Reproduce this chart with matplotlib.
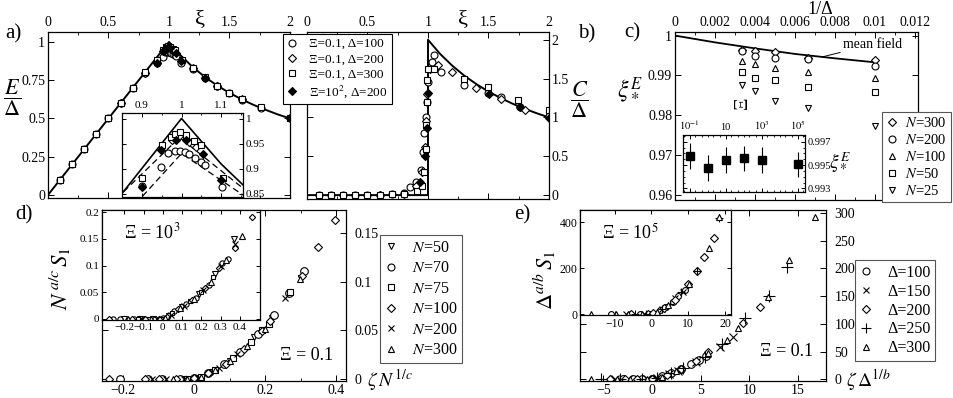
import matplotlib
matplotlib.use('Agg')
import matplotlib.pyplot as plt
from matplotlib.lines import Line2D
from matplotlib.ticker import FuncFormatter, MultipleLocator, FixedLocator, LogLocator, NullFormatter

plt.rcParams['font.family'] = 'serif'
plt.rcParams['font.serif'] = ['Liberation Serif', 'DejaVu Serif']
plt.rcParams['mathtext.fontset'] = 'stix'

# ---------------- data: panel a (E/Delta vs xi) ----------------
mf_a_xi = [0, 1.0, 1.1, 1.2, 1.3, 1.4, 1.5, 1.6, 1.7, 1.8, 1.9, 2.0]
mf_a_E = [0, 1.0, 0.909, 0.833, 0.769, 0.714, 0.667, 0.625, 0.588, 0.556, 0.526, 0.5]
dash_hi_xi = [0.80, 0.995, 1.20]
dash_hi_E = [0.812, 0.962, 0.832]
dash_lo_xi = [0.80, 1.0, 1.20]
dash_lo_E = [0.756, 0.930, 0.823]

a_c100_xi = [0.1, 0.2, 0.3, 0.4, 0.5, 0.6, 0.7, 0.8, 0.901, 0.948, 0.966, 0.983, 0.995, 1.008, 1.02, 1.035, 1.048, 1.06, 1.101, 1.2, 1.3, 1.4, 1.5, 1.6, 1.76, 2.0]
a_c100_E = [0.1, 0.2, 0.3, 0.4, 0.5, 0.6, 0.7, 0.795, 0.865, 0.904, 0.932, 0.936, 0.936, 0.934, 0.929, 0.922, 0.914, 0.907, 0.864, 0.822, 0.762, 0.712, 0.665, 0.622, 0.568, 0.5]
a_d200_xi = [0.6, 0.8, 0.975, 0.994, 1.02, 1.037, 1.2, 1.4, 1.6]
a_d200_E = [0.6, 0.8, 0.958, 0.965, 0.954, 0.944, 0.828, 0.712, 0.624]
a_s300_xi = [0.1, 0.2, 0.3, 0.4, 0.5, 0.6, 0.7, 0.8, 0.901, 0.95, 0.973, 0.983, 0.995, 1.012, 1.031, 1.048, 1.104, 1.2, 1.3, 1.4, 1.5, 1.6, 1.76, 2.0]
a_s300_E = [0.1, 0.2, 0.3, 0.4, 0.5, 0.6, 0.7, 0.805, 0.882, 0.947, 0.964, 0.970, 0.974, 0.968, 0.955, 0.947, 0.882, 0.83, 0.768, 0.712, 0.668, 0.628, 0.575, 0.505]
a_f200_xi = [0.901, 0.948, 0.987, 1.012, 1.054, 1.10, 1.3, 2.0]
a_f200_E = [0.864, 0.938, 0.958, 0.958, 0.930, 0.878, 0.765, 0.5]

# ---------------- data: panel b (C/Delta vs xi) ----------------
mf_b_xi = [0, 1.0, 1.0, 1.1, 1.2, 1.3, 1.4, 1.5, 1.6, 1.7, 1.8, 1.9, 2.0]
mf_b_C = [0, 0, 2.0, 1.818, 1.667, 1.538, 1.429, 1.333, 1.25, 1.176, 1.111, 1.053, 1.0]
b_c100_xi = [0.1, 0.2, 0.3, 0.4, 0.5, 0.6, 0.7, 0.8, 0.85, 0.9, 0.94, 0.96, 0.97, 0.98, 0.99, 1.0, 1.03, 1.05, 1.105, 1.3, 1.5, 1.6, 1.76, 2.0]
b_c100_C = [0, 0, 0, 0, 0, 0.005, 0.01, 0.03, 0.1, 0.17, 0.32, 0.55, 0.8, 1.0, 1.2, 1.45, 1.72, 1.8, 1.59, 1.42, 1.32, 1.26, 1.14, 1.02]
b_d200_xi = [0.6, 0.8, 0.9, 0.95, 0.975, 0.985, 0.995, 1.02, 1.08, 1.2, 1.4, 1.6, 1.8]
b_d200_C = [0, 0.02, 0.12, 0.3, 0.62, 0.95, 1.3, 1.62, 1.68, 1.58, 1.38, 1.24, 1.1]
b_s300_xi = [0.1, 0.2, 0.3, 0.4, 0.5, 0.6, 0.7, 0.8, 0.906, 0.95, 0.97, 0.98, 0.985, 0.99, 0.995, 1.0, 1.05, 1.3, 1.5, 1.74, 2.0]
b_s300_C = [0, 0, 0, 0, 0, 0, 0.01, 0.02, 0.05, 0.12, 0.3, 0.6, 0.9, 1.2, 1.48, 1.62, 1.62, 1.49, 1.39, 1.22, 1.09]
b_f200_xi = [0.934, 0.975, 0.995, 1.003, 1.505, 1.76, 2.0]
b_f200_C = [0.17, 0.5, 0.86, 1.31, 1.30, 1.13, 0.99]

# ---------------- data: panel c (xi*^E vs 1/Delta) ----------------
mf_c_x = [0, 0.002, 0.004, 0.006, 0.008, 0.010]
mf_c_y = [1.0, 0.9983, 0.9968, 0.9954, 0.9943, 0.9933]
inv_delta = [0.00333, 0.004, 0.005, 0.00667, 0.01]
c_N300 = [0.9964, 0.9961, 0.9958, 0.9944, 0.9938]
c_N200 = [0.9961, 0.9949, 0.9944, 0.9941, 0.9925]
c_N100 = [0.9936, 0.9928, 0.9919, 0.9908, 0.9893]
c_N50 = [0.9910, 0.9894, 0.9889, 0.9870, 0.9858]
c_N25 = [0.9876, 0.9862, 0.9836, 0.9819, 0.9773]
c_in_Xi = [0.1, 1, 10, 100, 1000, 1e5]
c_in_y = [0.99577, 0.99477, 0.99543, 0.99557, 0.99543, 0.99506]
c_in_err = [0.0011, 0.0011, 0.0011, 0.0011, 0.0011, 0.0011]

# ---------------- data: panel d (N^{a/c} S1 vs zeta N^{1/c}) ----------------
d_N50_x = [-0.09, -0.03, 0.01, 0.05, 0.10, 0.17, 0.22, 0.30]
d_N50_y = [0, 0, 0.001, 0.007, 0.019, 0.043, 0.063, 0.104]
d_N70_x = [-0.21, -0.13, -0.09, -0.04, 0.0, 0.04, 0.085, 0.13, 0.18, 0.225, 0.268, 0.31]
d_N70_y = [0, 0, 0, 0, 0.001, 0.006, 0.015, 0.028, 0.046, 0.066, 0.089, 0.111]
d_N75_x = [-0.02, 0.02, 0.06, 0.11, 0.16, 0.19, 0.21, 0.27]
d_N75_y = [0, 0.002, 0.009, 0.022, 0.038, 0.05, 0.057, 0.09]
d_N100_x = [-0.24, -0.14, -0.10, -0.05, 0.0, 0.04, 0.09, 0.14, 0.19, 0.215, 0.305, 0.35, 0.397]
d_N100_y = [0, 0, 0, 0, 0.001, 0.006, 0.016, 0.031, 0.049, 0.06, 0.106, 0.1355, 0.164]
d_N200_x = [-0.12, -0.08, -0.03, 0.01, 0.07, 0.12, 0.255]
d_N200_y = [0, 0, 0, 0.001, 0.011, 0.026, 0.083]
d_N300_x = [-0.06, -0.02, 0.02, 0.06, 0.10, 0.15, 0.20, 0.297]
d_N300_y = [0, 0, 0.002, 0.009, 0.019, 0.034, 0.052, 0.1025]

di_N50_x = [-0.2, -0.12, -0.05, 0.03, 0.1, 0.19, 0.27, 0.37]
di_N50_y = [0, 0, 0, 0.005, 0.022, 0.046, 0.085, 0.15]
di_N70_x = [-0.26, -0.22, -0.15, -0.1, -0.04, 0.0, 0.06, 0.12, 0.17, 0.24, 0.31, 0.34]
di_N70_y = [0, 0, 0, 0, 0, 0.001, 0.014, 0.028, 0.04, 0.064, 0.104, 0.113]
di_N75_x = [-0.13, -0.07, -0.01, 0.05, 0.14, 0.2, 0.26]
di_N75_y = [0, 0, 0, 0.011, 0.033, 0.05, 0.079]
di_N100_x = [-0.28, -0.16, -0.09, -0.02, 0.02, 0.08, 0.15, 0.22, 0.29, 0.375, 0.465]
di_N100_y = [0, 0, 0, 0, 0.003, 0.018, 0.035, 0.057, 0.095, 0.133, 0.191]
di_N200_x = [-0.11, -0.03, 0.04, 0.11, 0.21, 0.3, 0.376]
di_N200_y = [0, 0, 0.008, 0.025, 0.054, 0.1, 0.14]
di_N300_x = [-0.18, -0.06, 0.01, 0.09, 0.16, 0.25, 0.33, 0.414]
di_N300_y = [0, 0, 0.002, 0.02, 0.038, 0.07, 0.11, 0.156]

# ---------------- data: panel e (Delta^{a/b} S1 vs zeta Delta^{1/b}) ----------------
e_D100_x = [-3.0, -2.0, -1.0, 0.0, 1.0, 2.0, 3.0, 4.0, 4.8, 5.6]
e_D100_y = [0, 0, 0, 1, 6, 12, 19, 28, 35, 43]
e_D150_x = [-3.8, -2.5, -0.5, 0.5, 1.8, 2.7, 4.5, 7.0, 8.35]
e_D150_y = [0, 0, 0, 2, 9, 16, 31, 59, 77]
e_D200_x = [-4.3, -2.8, -1.5, 0.0, 1.5, 3.0, 4.5, 5.8, 9.4, 11.1]
e_D200_y = [0, 0, 0, 1, 8, 19, 34, 49, 101, 131]
e_D250_x = [-5.2, -3.3, -1.0, 0.5, 2.0, 3.2, 5.5, 7.2, 9.6, 12.0, 13.9]
e_D250_y = [0, 0, 0, 3, 12, 20, 40, 63, 110, 151, 203]
e_D300_x = [-6.3, -3.6, -2.3, -0.5, 1.0, 2.5, 5.8, 7.7, 8.8, 11.9, 14.1, 16.8]
e_D300_y = [0, 0, 0, 0, 5, 16, 48, 71, 92, 149, 215, 293]

ei_D100_x = [-10.9, -3.0, -0.5, 2.2, 4.0, 5.8, 7.2, 9.0]
ei_D100_y = [0, 0, 2, 17, 32, 54, 80, 105]
ei_D150_x = [-7.0, -2.0, 1.0, 3.0, 6.5, 8.5]
ei_D150_y = [0, 0, 6, 22, 68, 98]
ei_D200_x = [-5.5, -1.0, 0.4, 3.5, 6.5, 9.8, 12.4, 14.4, 16.9]
ei_D200_y = [0, 0, 3, 27, 63, 130, 188, 250, 330]
ei_D250_x = [-4.5, -1.5, 2.8, 5.0, 8.0, 12.3, 18.4]
ei_D250_y = [0, 0, 20, 45, 95, 190, 420]
ei_D300_x = [-16.3, -9.6, -6.4, -2.5, 1.5, 4.5, 10.3, 15.5, 18.4]
ei_D300_y = [0, 0, 0, 0, 10, 38, 130, 290, 425]

# ---------------- layout helpers ----------------
W, H = 954, 398
fig = plt.figure(figsize=(W / 100, H / 100), dpi=100)


def ax_px(x0, y0, x1, y1):
    return fig.add_axes([x0 / W, 1 - y1 / H, (x1 - x0) / W, (y1 - y0) / H])


def ftext(x, y, s, **kw):
    kw.setdefault('ha', 'center')
    kw.setdefault('va', 'center')
    return fig.text(x / W, 1 - y / H, s, **kw)


gfmt = FuncFormatter(lambda v, p: ('%g' % v).replace('-', '\u2212'))


def style(ax, sides, size=10, maj=4, mino=2):
    ax.tick_params(which='both', direction='in', top=True, bottom=True, left=True, right=True,
                   labeltop='top' in sides, labelbottom='bottom' in sides,
                   labelleft='left' in sides, labelright='right' in sides, labelsize=size, pad=2)
    ax.tick_params(which='major', length=maj, width=0.7)
    ax.tick_params(which='minor', length=mino, width=0.6)
    for s in ax.spines.values():
        s.set_linewidth(0.9)


def mk(ax, x, y, m, ms=5, filled=False, **kw):
    ax.plot(x, y, ls='none', marker=m, ms=ms, mec='black', mew=0.8,
            mfc='black' if filled else 'white', **kw)


def mkx(ax, x, y, m, ms=6):
    ax.plot(x, y, ls='none', marker=m, ms=ms, color='black', mew=0.8)


def open_handle(m, ms=5, filled=False):
    return Line2D([], [], ls='none', marker=m, ms=ms, mec='black',
                  mfc='black' if filled else 'white', mew=0.8)


def line_handle(m, ms=5):
    return Line2D([], [], ls='none', marker=m, ms=ms, color='black', mew=0.8)


def legend_at(handles, labels, x, y, size, spacing, edge='#555555', tpad=0.9):
    lg = fig.legend(handles, labels, loc='upper left', bbox_to_anchor=(x / W, 1 - y / H),
                    fontsize=size, frameon=True, fancybox=False, edgecolor=edge, framealpha=1,
                    handlelength=0.8, handletextpad=tpad, borderpad=0.3, labelspacing=spacing,
                    borderaxespad=0)
    lg.get_frame().set_linewidth(0.8)
    return lg


# ================= panel a =================
axa = ax_px(48, 32, 290, 198)
axa.plot(mf_a_xi, mf_a_E, color='black', lw=1.4)
mk(axa, a_c100_xi, a_c100_E, 'o')
mk(axa, a_d200_xi, a_d200_E, 'D', ms=4.3)
mk(axa, a_s300_xi, a_s300_E, 's', ms=4.6)
mk(axa, a_f200_xi, a_f200_E, 'D', ms=4.3, filled=True)
axa.set_xlim(0, 2)
axa.set_ylim(-0.02, 1.065)
axa.xaxis.set_major_locator(MultipleLocator(0.5))
axa.xaxis.set_minor_locator(MultipleLocator(0.25))
axa.yaxis.set_major_locator(MultipleLocator(0.25))
axa.xaxis.set_major_formatter(gfmt)
axa.yaxis.set_major_formatter(gfmt)
style(axa, ('left', 'top'))

axai = ax_px(122, 113, 243, 197)
axai.plot(mf_a_xi, mf_a_E, color='black', lw=1.2)
axai.plot(dash_hi_xi, dash_hi_E, color='black', lw=0.9, ls=(0, (5, 3)))
axai.plot(dash_lo_xi, dash_lo_E, color='black', lw=0.9, ls=(0, (5, 3)))
mk(axai, a_c100_xi, a_c100_E, 'o', ms=5)
mk(axai, a_d200_xi, a_d200_E, 'D', ms=4.3)
mk(axai, a_s300_xi, a_s300_E, 's', ms=4.6)
mk(axai, a_f200_xi, a_f200_E, 'D', ms=4.3, filled=True)
axai.set_xlim(0.85, 1.155)
axai.set_ylim(0.843, 1.011)
axai.xaxis.set_major_locator(FixedLocator([0.9, 1.0, 1.1]))
axai.xaxis.set_minor_locator(MultipleLocator(0.05))
axai.yaxis.set_major_locator(FixedLocator([0.85, 0.9, 0.95, 1.0]))
axai.xaxis.set_major_formatter(gfmt)
axai.yaxis.set_major_formatter(gfmt)
style(axai, ('top', 'right'), size=8, maj=3, mino=1.5)

ftext(200, 20, 'ξ', fontsize=16)
ftext(13, 34, 'a)', fontsize=15)
ftext(12, 98, r'$\dfrac{E}{\Delta}$', fontsize=16)

# ================= panel b =================
axb = ax_px(307, 32, 549, 199)
axb.plot(mf_b_xi, mf_b_C, color='black', lw=1.4)
mk(axb, b_c100_xi, b_c100_C, 'o')
mk(axb, b_d200_xi, b_d200_C, 'D', ms=4.3)
mk(axb, b_s300_xi, b_s300_C, 's', ms=4.6)
mk(axb, b_f200_xi, b_f200_C, 'D', ms=4.3, filled=True)
axb.set_xlim(0, 2)
axb.set_ylim(-0.05, 2.1)
axb.xaxis.set_major_locator(MultipleLocator(0.5))
axb.xaxis.set_minor_locator(MultipleLocator(0.25))
axb.yaxis.set_major_locator(MultipleLocator(0.5))
axb.xaxis.set_major_formatter(gfmt)
axb.yaxis.set_major_formatter(gfmt)
style(axb, ('right', 'top'))

ftext(463, 20, 'ξ', fontsize=16)
ftext(587, 34, 'b)', fontsize=15)
ftext(579, 100, r'$\dfrac{C}{\Delta}$', fontsize=16)

leg_ab_handles = [open_handle('o'), open_handle('D', 4.3), open_handle('s', 4.6),
                  open_handle('D', 4.3, filled=True)]
leg_ab_labels = ['Ξ=0.1, Δ=100', 'Ξ=0.1, Δ=200', 'Ξ=0.1, Δ=300', r'Ξ=10$^2$, Δ=200']
legend_at(leg_ab_handles, leg_ab_labels, 283, 34, 9.5, 0.22, edge='black', tpad=0.9)

# ================= panel c =================
axc = ax_px(675, 32, 918, 200)
axc.plot(mf_c_x, mf_c_y, color='black', lw=1.3)
mk(axc, inv_delta, c_N300, 'D', ms=4.3)
mk(axc, inv_delta, c_N200, 'o', ms=5)
mk(axc, inv_delta, c_N100, '^', ms=5)
mk(axc, inv_delta, c_N50, 's', ms=4.6)
mk(axc, inv_delta, c_N25, 'v', ms=5)
axc.set_xlim(0, 0.01215)
axc.set_ylim(0.9588, 1.0009)
axc.xaxis.set_major_locator(MultipleLocator(0.002))
axc.xaxis.set_minor_locator(MultipleLocator(0.001))
axc.yaxis.set_major_locator(MultipleLocator(0.01))
axc.xaxis.set_major_formatter(gfmt)
axc.yaxis.set_major_formatter(gfmt)
style(axc, ('left', 'top'))
axc.annotate('mean field', xy=(0.0074, 0.9947), xytext=(0.0084, 0.9978), fontsize=10,
             ha='left', va='center', arrowprops=dict(arrowstyle='-', color='black', lw=0.7, shrinkA=0, shrinkB=0))

axci = ax_px(683, 135, 805, 192)
axci.errorbar(c_in_Xi, c_in_y, yerr=c_in_err, fmt='s', ms=5.5, mfc='black', mec='black',
              ecolor='black', elinewidth=0.8, capsize=0)
axci.set_xscale('log')
axci.set_xlim(10 ** -1.37, 10 ** 5.4)
axci.set_ylim(0.9927, 0.99757)
axci.xaxis.set_major_locator(FixedLocator([0.1, 10, 1000, 1e5]))
axci.xaxis.set_major_formatter(FuncFormatter(lambda v, p: {0.1: r'$10^{-1}$', 10: '10', 1000: r'$10^3$', 1e5: r'$10^5$'}.get(round(v, 3) if v < 1 else round(v), '')))
axci.xaxis.set_minor_locator(LogLocator(base=10, subs=(1.0, 2.0, 5.0), numticks=20))
axci.xaxis.set_minor_formatter(NullFormatter())
axci.yaxis.set_major_locator(FixedLocator([0.993, 0.995, 0.997]))
axci.yaxis.set_minor_locator(MultipleLocator(0.0005))
axci.yaxis.set_major_formatter(gfmt)
style(axci, ('top', 'right'), size=7.5, maj=3, mino=1.5)

ftext(820, 9, '1/Δ', fontsize=13)
ftext(632, 33, 'c)', fontsize=15)
ftext(630, 90, r'$\xi_*^{E}$', fontsize=17)
ftext(742, 103, 'Ξ', fontsize=14, rotation=90)
ftext(840, 162, r'$\xi_*^{E}$', fontsize=14)

leg_c_handles = [open_handle('D', 4.3), open_handle('o'), open_handle('^'), open_handle('s', 4.6),
                 open_handle('v')]
leg_c_labels = [r'$N$=300', r'$N$=200', r'$N$=100', r'$N$=50', r'$N$=25']
legend_at(leg_c_handles, leg_c_labels, 882, 112, 10.5, 0.2, tpad=0.5)

# ================= panel d =================
axd = ax_px(102, 210, 346, 381)
mk(axd, d_N50_x, d_N50_y, 'v')
mk(axd, d_N70_x, d_N70_y, 'o', ms=5.5)
mk(axd, d_N75_x, d_N75_y, 's', ms=4.6)
mk(axd, d_N100_x, d_N100_y, 'D', ms=4.5)
mkx(axd, d_N200_x, d_N200_y, 'x', ms=5)
mk(axd, d_N300_x, d_N300_y, '^')
axd.set_xlim(-0.26, 0.428)
axd.set_ylim(-0.002, 0.174)
axd.xaxis.set_major_locator(MultipleLocator(0.2))
axd.xaxis.set_minor_locator(MultipleLocator(0.1))
axd.yaxis.set_major_locator(MultipleLocator(0.05))
axd.xaxis.set_major_formatter(gfmt)
axd.yaxis.set_major_formatter(gfmt)
style(axd, ('bottom', 'right'))
axd.tick_params(axis='y', pad=6)
axd.text(0.84, 0.152, 'Ξ = 0.1', transform=axd.transAxes, fontsize=13, ha='center', va='center')

axdi = ax_px(102, 210, 260, 320)
mk(axdi, di_N50_x, di_N50_y, 'v', ms=3.8)
mk(axdi, di_N70_x, di_N70_y, 'o', ms=3.8)
mk(axdi, di_N75_x, di_N75_y, 's', ms=3.4)
mk(axdi, di_N100_x, di_N100_y, 'D', ms=3.2)
mkx(axdi, di_N200_x, di_N200_y, 'x', ms=3.8)
mk(axdi, di_N300_x, di_N300_y, '^', ms=3.8)
axdi.set_xlim(-0.316, 0.505)
axdi.set_ylim(-0.002, 0.204)
axdi.xaxis.set_major_locator(FixedLocator([-0.2, -0.1, 0, 0.1, 0.2, 0.3, 0.4]))
axdi.yaxis.set_major_locator(MultipleLocator(0.05))
axdi.xaxis.set_major_formatter(gfmt)
axdi.yaxis.set_major_formatter(gfmt)
style(axdi, ('left', 'bottom'), size=8, maj=3)
axdi.text(0.32, 0.8, r'Ξ = 10$^3$', transform=axdi.transAxes, fontsize=13, ha='center', va='center')

ftext(24, 215, 'd)', fontsize=15)
ftext(60, 278, r'$N^{\,a/c}\,S_1$', fontsize=16.5, rotation=90)
ftext(390, 380, r'$\zeta\,N^{\,1/c}$', fontsize=14)

leg_d_handles = [open_handle('v'), open_handle('o'), open_handle('s', 4.6), open_handle('D', 4.3),
                 line_handle('x'), open_handle('^')]
leg_d_labels = [r'$N$=50', r'$N$=70', r'$N$=75', r'$N$=100', r'$N$=200', r'$N$=300']
legend_at(leg_d_handles, leg_d_labels, 380, 235, 11.5, 0.28)

# ================= panel e =================
axe = ax_px(580, 210, 826, 381)
mk(axe, e_D100_x, e_D100_y, 'o', ms=5.5)
mkx(axe, e_D150_x, e_D150_y, 'x', ms=5.5)
mk(axe, e_D200_x, e_D200_y, 'D', ms=4.5)
mkx(axe, e_D250_x, e_D250_y, '+', ms=8)
mk(axe, e_D300_x, e_D300_y, '^')
axe.set_xlim(-7.4, 17.9)
axe.set_ylim(-2.7, 305)
axe.xaxis.set_major_locator(MultipleLocator(5))
axe.yaxis.set_major_locator(MultipleLocator(50))
axe.xaxis.set_major_formatter(gfmt)
axe.yaxis.set_major_formatter(gfmt)
style(axe, ('bottom', 'right'))
axe.tick_params(axis='y', pad=6)
axe.text(0.84, 0.17, 'Ξ = 0.1', transform=axe.transAxes, fontsize=13, ha='center', va='center')

axei = ax_px(580, 210, 731, 315)
mk(axei, ei_D100_x, ei_D100_y, 'o', ms=4.2)
mkx(axei, ei_D150_x, ei_D150_y, 'x', ms=4.2)
mk(axei, ei_D200_x, ei_D200_y, 'D', ms=3.6)
mkx(axei, ei_D250_x, ei_D250_y, '+', ms=5.5)
mk(axei, ei_D300_x, ei_D300_y, '^', ms=4.2)
axei.set_xlim(-19.4, 21.6)
axei.set_ylim(-4, 454)
axei.xaxis.set_major_locator(MultipleLocator(10))
axei.yaxis.set_major_locator(MultipleLocator(200))
axei.xaxis.set_major_formatter(gfmt)
axei.yaxis.set_major_formatter(gfmt)
style(axei, ('left', 'bottom'), size=8.5, maj=3)
axei.text(0.33, 0.78, r'Ξ = 10$^5$', transform=axei.transAxes, fontsize=13, ha='center', va='center')

ftext(522, 215, 'e)', fontsize=15)
ftext(545, 280, r'$\Delta^{a/b}\,S_1$', fontsize=16, rotation=90)
ftext(868, 380, r'$\zeta\,\Delta^{1/b}$', fontsize=14)

leg_e_handles = [open_handle('o'), line_handle('x'), open_handle('D', 4.3), line_handle('+', 7),
                 open_handle('^')]
leg_e_labels = ['Δ=100', 'Δ=150', 'Δ=200', 'Δ=250', 'Δ=300']
legend_at(leg_e_handles, leg_e_labels, 855, 260, 11.5, 0.18)

fig.savefig('out.png', dpi=100)
